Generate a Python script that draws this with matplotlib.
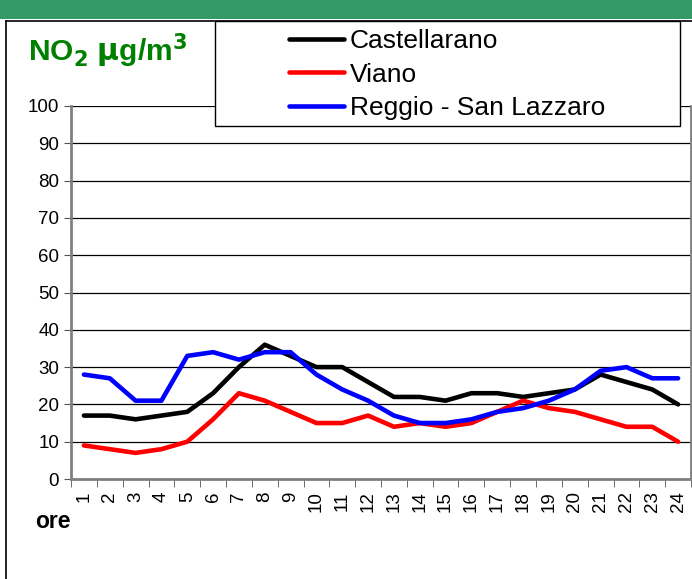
import matplotlib
matplotlib.use('Agg')
import matplotlib.pyplot as plt
from matplotlib.patches import Rectangle

hours = list(range(1, 25))
castellarano = [17, 17, 16, 17, 18, 23, 30, 36, 33, 30, 30, 26,
                22, 22, 21, 23, 23, 22, 23, 24, 28, 26, 24, 20]
viano = [9, 8, 7, 8, 10, 16, 23, 21, 18, 15, 15, 17,
         14, 15, 14, 15, 18, 21, 19, 18, 16, 14, 14, 10]
reggio = [28, 27, 21, 21, 33, 34, 32, 34, 34, 28, 24, 21,
          17, 15, 15, 16, 18, 19, 21, 24, 29, 30, 27, 27]
series_names = ['Castellarano', 'Viano', 'Reggio - San Lazzaro']
series_colors = ['black', '#ff0000', '#0000ff']

plt.rcParams['font.family'] = ['Liberation Sans', 'DejaVu Sans']

fig = plt.figure(figsize=(6.92, 5.79), dpi=100, facecolor='white')

# green banner and outer frame
fig.patches.append(Rectangle((0, 1 - 19 / 579), 1, 19 / 579, transform=fig.transFigure,
                             facecolor='#339966', edgecolor='none'))
fig.add_artist(plt.Line2D([6 / 692, 1], [1 - 21 / 579] * 2, transform=fig.transFigure,
                          color='black', lw=1.2))
fig.add_artist(plt.Line2D([6 / 692] * 2, [0, 1 - 21 / 579], transform=fig.transFigure,
                          color='black', lw=1.2))

ax = fig.add_axes([71 / 692, 1 - 479 / 579, 620 / 692, 373 / 579])

lines = []
for vals, name, col in zip([castellarano, viano, reggio], series_names, series_colors):
    ln, = ax.plot(hours, vals, color=col, lw=3.3, label=name, solid_capstyle='round')
    lines.append(ln)

ax.set_xlim(0.5, 24.5)
ax.set_ylim(0, 100)
ax.set_yticks(range(0, 101, 10))
ax.set_xticks(hours)
ax.set_xticklabels([str(h) for h in hours], rotation=90, fontsize=13.5)
ax.set_xticks([h + 0.5 for h in range(0, 25)], minor=True)
ax.tick_params(axis='x', which='major', length=0, pad=9)
ax.tick_params(axis='x', which='minor', length=6, color='#555555', direction='out')
ax.tick_params(axis='y', length=5, color='#555555', labelsize=13.5, direction='out')
ax.yaxis.grid(True, color='black', lw=0.9)
ax.set_axisbelow(True)

for side in ['left', 'bottom', 'right']:
    ax.spines[side].set_color('#808080')
    ax.spines[side].set_linewidth(2)
ax.spines['top'].set_visible(False)

# legend box
box = Rectangle((215 / 692, 1 - 126 / 579), 465 / 692, 105 / 579, transform=fig.transFigure,
                facecolor='white', edgecolor='black', lw=1, zorder=5)
fig.add_artist(box)
leg = fig.legend(handles=lines, loc='upper left', bbox_to_anchor=(289 / 692, 1 - 29 / 579),
                 frameon=False, fontsize=19, handlelength=2.1, handletextpad=0.2,
                 labelspacing=0.36, borderaxespad=0, borderpad=0)
leg.set_zorder(6)

fig.text(28 / 692, 1 - 51 / 579, r'NO$_\mathbf{2}$ $\mathbf{\mu}$g/m$^\mathbf{3}$', color='#008000',
         fontsize=21.5, fontweight='bold', va='center', ha='left')
fig.text(35 / 692, 1 - 521 / 579, 'ore', fontsize=16.5, fontweight='bold', va='center', ha='left')

fig.savefig('out.png', dpi=100, facecolor='white')
